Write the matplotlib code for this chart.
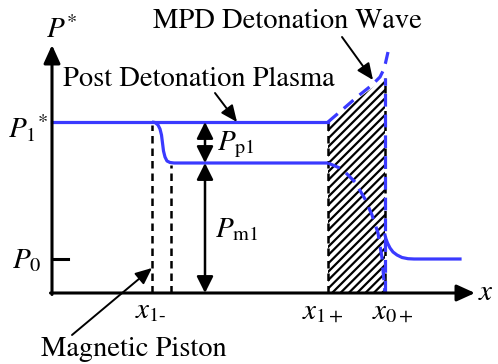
import matplotlib
matplotlib.use("Agg")
import matplotlib.pyplot as plt
from matplotlib.patches import Polygon

plt.rcParams['mathtext.fontset'] = 'stix'
plt.rcParams['font.family'] = ['STIXGeneral', 'Liberation Serif', 'DejaVu Serif']
plt.rcParams['hatch.linewidth'] = 1.6

# ---- schematic levels / positions (data units) ----
P1_level = 171          # P1*
Pmag_level = 130        # plasma level behind piston
P0_level = 34           # ambient
x_piston = [100, 119]   # magnetic piston dashed boundaries
x_front = [276, 333]    # x1+, x0+
axis_end_x = 423
axis_end_y = 248

# piston step profile
step_x = [100, 103, 106, 108, 109.5, 110.5, 111.5, 113, 115, 118, 122, 276]
step_y = [171, 170.5, 168, 164, 158, 150, 142, 136, 132, 130.5, 130, 130]

# detonation wave front (upper dashed)
wave_up_x = [276, 290, 305, 320, 328, 331, 333.5, 336]
wave_up_y = [171, 183, 196, 208, 216, 222, 230, 241]

# expansion (lower dashed)
wave_lo_x = [276, 290, 303, 313, 320, 326, 330, 333]
wave_lo_y = [130, 124, 111, 94, 78, 60, 35, 0]

# hatched region
hatch_x = [276, 276, 333, 333]
hatch_y = [0, 171, 215, 0]

# decay to ambient ahead of front
dec_x = [333, 334, 335.5, 338, 341, 345, 350, 356, 362, 408]
dec_y = [58, 54, 50, 45, 41, 38, 35.5, 34.3, 34, 34]

BLUE = '#3a3aff'

fig = plt.figure(figsize=(4.98, 3.64), dpi=100)
ax = fig.add_axes([0, 0, 1, 1])
ax.set_xlim(-52, 446)
ax.set_ylim(-71, 293)
ax.axis('off')

# hatched region
ax.add_patch(Polygon(list(zip(hatch_x, hatch_y)), closed=True, facecolor='none',
                     edgecolor='black', linewidth=0, hatch='////', zorder=1))

# black dashed verticals
dash_k = dict(color='black', lw=1.8, linestyle=(0, (3, 2)), zorder=2)
ax.plot([x_piston[0]] * 2, [0, P1_level - 3], **dash_k)
ax.plot([x_piston[1]] * 2, [0, Pmag_level - 2], **dash_k)
ax.plot([x_front[0]] * 2, [0, P1_level], **dash_k)
ax.plot([x_front[1]] * 2, [0, hatch_y[2]], **dash_k)

# blue solid lines
ax.plot([0, x_front[0]], [P1_level, P1_level], color=BLUE, lw=2.3, zorder=3)
ax.plot(step_x, step_y, color=BLUE, lw=2.3, zorder=3, solid_capstyle='butt')
ax.plot(dec_x, dec_y, color=BLUE, lw=2.3, zorder=3)

# blue dashed lines
dash_b = dict(color=BLUE, lw=2.3, linestyle=(0, (4, 2.5)), zorder=3)
ax.plot(wave_up_x, wave_up_y, **dash_b)
ax.plot(wave_lo_x, wave_lo_y, **dash_b)
ax.plot([x_front[1]] * 2, [0, hatch_y[2]], **dash_b)

# axes
ax_arrow = dict(arrowstyle='-|>,head_length=0.55,head_width=0.25', color='black',
                lw=2.2, shrinkA=0, shrinkB=0, mutation_scale=20)
ax.annotate('', xy=(0, axis_end_y), xytext=(0, -1.5), arrowprops=ax_arrow, zorder=4)
ax.annotate('', xy=(axis_end_x, 0), xytext=(-1.5, 0), arrowprops=ax_arrow, zorder=4)
ax.plot([0, 16], [P0_level, P0_level], color='black', lw=2.2, zorder=4)

# double arrows
dbl = dict(arrowstyle='<|-|>,head_length=0.5,head_width=0.25', color='black',
           lw=1.8, shrinkA=0, shrinkB=0, mutation_scale=20)
ax.annotate('', xy=(153, P1_level), xytext=(153, Pmag_level), arrowprops=dbl, zorder=4)
ax.annotate('', xy=(153, Pmag_level), xytext=(153, 0), arrowprops=dbl, zorder=4)

# pointer arrows
ptr = dict(arrowstyle='-|>,head_length=0.5,head_width=0.22', color='black',
           lw=1.4, shrinkA=0, shrinkB=0, mutation_scale=20)
ax.annotate('', xy=(100, 25), xytext=(20, -42), arrowprops=ptr, zorder=4)
ax.annotate('', xy=(185, 171), xytext=(163, 200), arrowprops=ptr, zorder=4)
ax.annotate('', xy=(321, 213), xytext=(290, 256), arrowprops=ptr, zorder=4)

# labels
fs_m = 21
fs_t = 20.5
ax.text(-6, 255, r'$P^{*}$', fontsize=fs_m, ha='left', va='baseline')
ax.text(-44, 155, r'$P_{1}{}^{*}$', fontsize=fs_m, ha='left', va='baseline')
ax.text(-40, 25, r'$P_{0}$', fontsize=fs_m, ha='left', va='baseline')
ax.text(426, -7, r'$x$', fontsize=fs_m, ha='left', va='baseline')
ax.text(83, -25, r'$x_{1\text{-}}$', fontsize=fs_m, ha='left', va='baseline')
ax.text(250, -25, r'$x_{1+}$', fontsize=fs_m, ha='left', va='baseline')
ax.text(320, -25, r'$x_{0+}$', fontsize=fs_m, ha='left', va='baseline')
ax.text(165, 143, r'$P_{\mathrm{p1}}$', fontsize=fs_m, ha='left', va='baseline')
ax.text(163, 56, r'$P_{\mathrm{m1}}$', fontsize=fs_m, ha='left', va='baseline')

ax.text(82, -63, 'Magnetic Piston', fontsize=fs_t, ha='center', va='baseline')
ax.text(11, 207, 'Post Detonation Plasma', fontsize=fs_t, ha='left', va='baseline')
ax.text(101, 265, 'MPD Detonation Wave', fontsize=fs_t, ha='left', va='baseline')

fig.savefig('out.png', dpi=100)
